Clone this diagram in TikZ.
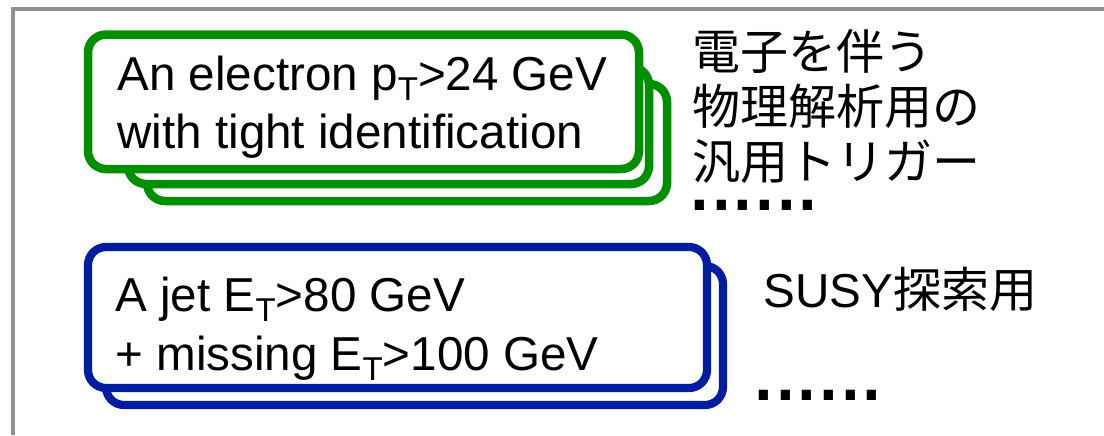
\documentclass[tikz,border=0pt]{standalone}
\usepackage{fontspec}
\setmainfont{Liberation Sans}
\newfontfamily\jpfont{Noto Sans CJK JP}
\definecolor{boxgreen}{RGB}{0,143,0}
\definecolor{boxblue}{RGB}{0,28,160}
\definecolor{framegray}{RGB}{145,145,145}
\newcommand{\subT}{\raisebox{-0.22em}{\fontsize{16.5pt}{16.5pt}\selectfont T}}
\newcommand{\dotrow}{.\kern-2.5pt.\kern-2.5pt.\kern-2.5pt.\kern-2.5pt.\kern-2.5pt.}
\begin{document}
\begin{tikzpicture}[x=0.5pt,y=-0.5pt]
\tikzset{
  gbox/.style={draw=boxgreen, line width=4.25pt, rounded corners=9pt, fill=white, inner sep=0pt},
  bbox/.style={draw=boxblue, line width=4.1pt, rounded corners=9pt, fill=white, inner sep=0pt},
  txt/.style={anchor=base west, inner sep=0pt, font=\fontsize{23.8pt}{28pt}\selectfont},
  jtxt/.style={anchor=base west, inner sep=0pt, font=\fontsize{24pt}{28pt}\selectfont},
  dots/.style={anchor=base west, inner sep=0pt, font=\fontsize{48pt}{48pt}\selectfont},
}
\useasboundingbox (0,0) rectangle (1104,435);
\fill[white] (0,0) rectangle (1104,435);
% frame
\coordinate (fbl) at (13,435);
\coordinate (ftl) at (13,9);
\coordinate (ftr) at (1104,9);
\draw[framegray, line width=1.8pt] (fbl) -- (ftl) -- (ftr);
% green stack
\node[gbox, minimum width=260pt, minimum height=58.5pt] (g3) at (407,142.5) {};
\node[gbox, minimum width=260.5pt, minimum height=58.5pt] (g2) at (388.5,125.5) {};
\node[gbox, minimum width=275.5pt, minimum height=67.25pt] (g1) at (363.5,101.75) {};
\node[txt] (g1a) at (117,90) {An electron p\subT>24 GeV};
\node[txt] (g1b) at (117,148) {with tight identification};
% blue stack
\node[bbox, minimum width=308.5pt, minimum height=69.5pt] (b2) at (414.5,335.5) {};
\node[bbox, minimum width=309.5pt, minimum height=70.5pt] (b1) at (397.5,317.5) {};
\node[txt] (b1a) at (115,311) {A jet E\subT>80 GeV};
\node[txt] (b1b) at (115,370) {+ missing E\subT>100 GeV};
% right labels
\node[jtxt] (j1) at (692,69) {\jpfont 電子を伴う};
\node[jtxt] (j2) at (692,124) {\jpfont 物理解析用の};
\node[jtxt] (j3) at (692,179) {\jpfont 汎用トリガー};
\node[dots] (d1) at (686,210) {\dotrow};
\node[jtxt] (s1) at (763,307) {\fontsize{23.8pt}{28pt}\selectfont SUSY\jpfont\fontsize{24pt}{28pt}\selectfont 探索用};
\node[dots] (d2) at (750,400) {\dotrow};
\end{tikzpicture}
\end{document}
